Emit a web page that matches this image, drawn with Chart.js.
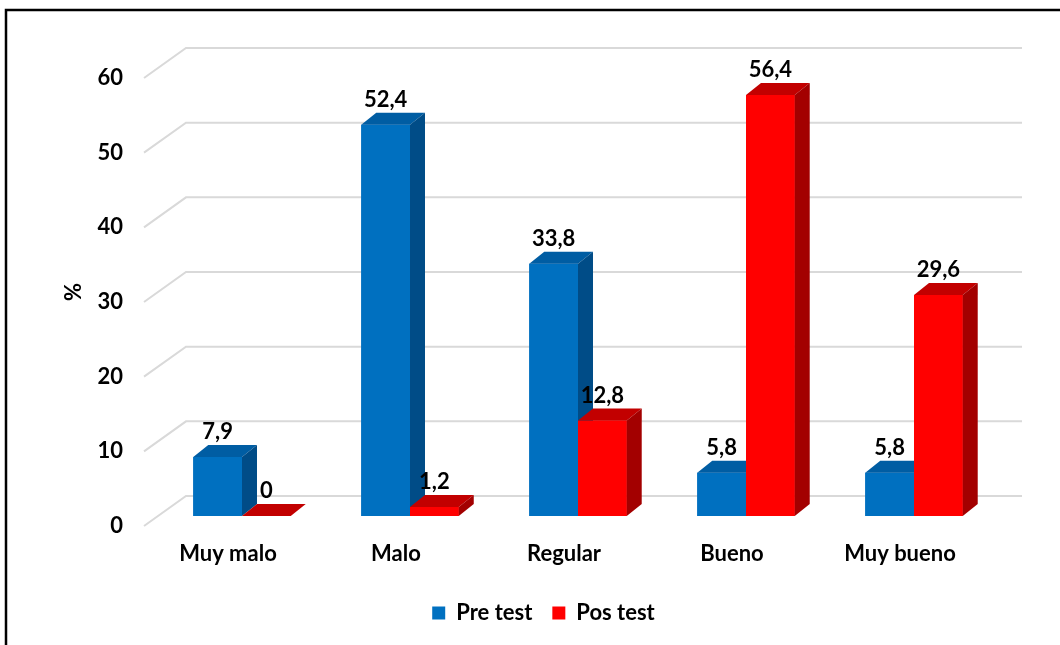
<!DOCTYPE html>
<html>
<head>
<meta charset="utf-8">
<script src="https://cdn.jsdelivr.net/npm/chart.js@4.4.1/dist/chart.umd.min.js"></script>
<style>
  html, body { margin: 0; padding: 0; background: #fff; }
  #wrap { width: 1060px; height: 645px; position: relative; }
</style>
</head>
<body>
<div id="wrap"><canvas id="chart"></canvas></div>
<script>
// Data
const categories = ['Muy malo', 'Malo', 'Regular', 'Bueno', 'Muy bueno'];
const preTest = [7.9, 52.4, 33.8, 5.8, 5.8];
const posTest = [0, 1.2, 12.8, 56.4, 29.6];
const yTicks = [0, 10, 20, 30, 40, 50, 60];

const FONT = 'Lato, "Liberation Sans", sans-serif';
const FSIZE = 22;
const DEPTH_X = 15, DEPTH_Y = -12;
const topColors = ['#005DA3', '#C20000'];
const sideColors = ['#004C87', '#A30000'];

// fake 3D look: slanted grid, top/side faces and value labels
const bar3d = {
    id: 'bar3d',
    beforeDraw(chart) {
        const ctx = chart.ctx;
        ctx.save();
        ctx.strokeStyle = '#000';
        ctx.lineWidth = 2.5;
        ctx.beginPath();
        ctx.moveTo(6, 645);
        ctx.lineTo(6, 10);
        ctx.lineTo(1060, 10);
        ctx.stroke();
        ctx.restore();
    },
    beforeDatasetsDraw(chart) {
        const ctx = chart.ctx;
        const y = chart.scales.y;
        const area = chart.chartArea;
        ctx.save();
        ctx.strokeStyle = '#D9D9D9';
        ctx.lineWidth = 2;
        y.ticks.forEach(t => {
            const py = y.getPixelForValue(t.value);
            ctx.beginPath();
            ctx.moveTo(area.left - 14, py + 10);
            ctx.lineTo(area.left + 28, py - 20);
            ctx.lineTo(area.right + 24, py - 20);
            ctx.stroke();
        });
        ctx.restore();
    },
    afterDatasetsDraw(chart) {
        const ctx = chart.ctx;
        const metas = [chart.getDatasetMeta(0), chart.getDatasetMeta(1)];
        ctx.save();
        for (let i = 0; i < categories.length; i++) {
            metas.forEach((meta, d) => {
                const el = meta.data[i];
                const l = el.x - el.width / 2, r = el.x + el.width / 2;
                const t = el.y, b = el.base;
                el.draw(ctx);
                // top face
                ctx.fillStyle = topColors[d];
                ctx.beginPath();
                ctx.moveTo(l, t);
                ctx.lineTo(l + DEPTH_X, t + DEPTH_Y);
                ctx.lineTo(r + DEPTH_X, t + DEPTH_Y);
                ctx.lineTo(r, t);
                ctx.closePath();
                ctx.fill();
                // side face
                ctx.fillStyle = sideColors[d];
                ctx.beginPath();
                ctx.moveTo(r, t);
                ctx.lineTo(r + DEPTH_X, t + DEPTH_Y);
                ctx.lineTo(r + DEPTH_X, b + DEPTH_Y);
                ctx.lineTo(r, b);
                ctx.closePath();
                ctx.fill();
            });
        }
        // value labels
        ctx.fillStyle = '#000';
        ctx.font = '700 ' + FSIZE + 'px ' + FONT;
        ctx.textAlign = 'center';
        ctx.textBaseline = 'middle';
        metas.forEach((meta, d) => {
            const values = chart.data.datasets[d].data;
            meta.data.forEach((el, i) => {
                ctx.fillText(String(values[i]).replace('.', ','), el.x, el.y - 25);
            });
        });
        ctx.restore();
    }
};

const ctx = document.getElementById('chart').getContext('2d');
new Chart(ctx, {
    type: 'bar',
    data: {
        labels: categories,
        datasets: [
            {
                label: 'Pre test',
                data: preTest,
                backgroundColor: '#0070C0',
                borderWidth: 0
            },
            {
                label: 'Pos test',
                data: posTest,
                backgroundColor: '#FF0000',
                borderWidth: 0
            }
        ]
    },
    options: {
        responsive: true,
        maintainAspectRatio: false,
        animation: false,
        devicePixelRatio: 1,
        layout: {
            padding: { top: 68, right: 62, bottom: 11, left: 89 }
        },
        datasets: {
            bar: {
                categoryPercentage: 0.58,
                barPercentage: 1
            }
        },
        plugins: {
            tooltip: { enabled: false },
            legend: {
                position: 'bottom',
                labels: {
                    color: '#000',
                    boxWidth: 13,
                    boxHeight: 13,
                    padding: 20,
                    font: { family: FONT, size: FSIZE, weight: 'bold' }
                }
            }
        },
        scales: {
            x: {
                grid: { display: false, drawTicks: false },
                border: { display: false },
                ticks: {
                    color: '#000',
                    padding: 25,
                    labelOffset: -14,
                    maxRotation: 0,
                    font: { family: FONT, size: FSIZE, weight: 'bold' }
                },
                afterFit: function(scale) {
                    scale.height = 66;
                }
            },
            y: {
                min: 0,
                max: 60,
                grid: { display: false, drawTicks: false },
                border: { display: false },
                afterBuildTicks: function(scale) {
                    scale.ticks = yTicks.map(v => ({ value: v }));
                },
                ticks: {
                    color: '#000',
                    padding: 35,
                    labelOffset: 10,
                    font: { family: FONT, size: FSIZE, weight: 'bold' }
                },
                title: {
                    display: true,
                    text: '%',
                    color: '#000',
                    padding: { top: -28, bottom: 0 },
                    font: { family: FONT, size: FSIZE, weight: 'bold' }
                },
                afterFit: function(scale) {
                    scale.width = 69;
                }
            }
        }
    },
    plugins: [bar3d]
});
</script>
</body>
</html>
